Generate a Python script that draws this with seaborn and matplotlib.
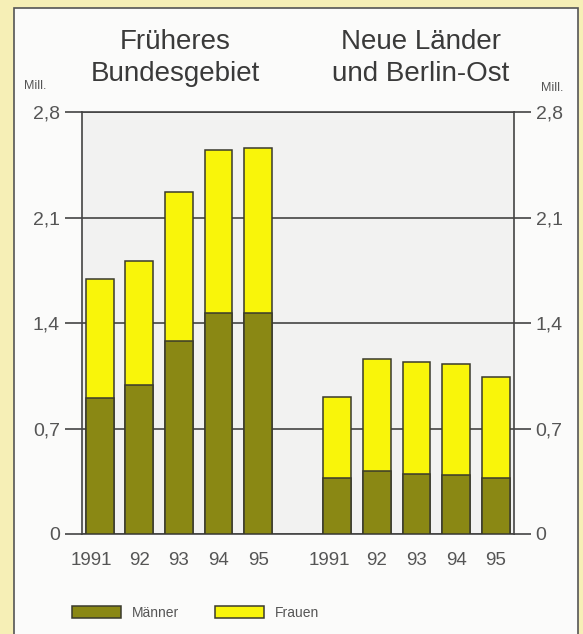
import pandas as pd
import matplotlib.pyplot as plt
import matplotlib.transforms as mtransforms
import seaborn as sns
from matplotlib.patches import Rectangle, Patch

# Arbeitslose in Mill., 1991-1995
years = ['1991', '92', '93', '94', '95']
west_maenner = [0.90, 0.99, 1.28, 1.47, 1.47]
west_frauen = [0.79, 0.82, 0.99, 1.08, 1.09]
ost_maenner = [0.37, 0.42, 0.40, 0.39, 0.37]
ost_frauen = [0.54, 0.74, 0.74, 0.74, 0.67]
y_ticks = [0, 0.7, 1.4, 2.1, 2.8]
y_labels = ['0', '0,7', '1,4', '2,1', '2,8']

olive = '#8a8814'
yellow = '#f9f50a'
edge = '#3a3a2c'
line = '#444444'
text_col = '#3a3a3a'
tick_col = '#555555'

sns.set_style('white')
plt.rcParams['font.family'] = ['Liberation Sans', 'DejaVu Sans']

n = len(years)
df = pd.DataFrame({
    'pos': list(range(n)) + [i + n + 1 for i in range(n)],
    'year': years + years,
    'maenner': west_maenner + ost_maenner,
    'frauen': west_frauen + ost_frauen,
})
df['total'] = df['maenner'] + df['frauen']

fig = plt.figure(figsize=(5.83, 6.34), dpi=100)
fig.patch.set_facecolor('#f6efb6')
W, H = 583, 634
fig.patches.append(Rectangle((14 / W, -0.01), (578 - 14) / W, 1.01 - 8 / H,
                             transform=fig.transFigure, facecolor='#fbfbfa',
                             edgecolor='#555555', linewidth=1.2, zorder=-5))

ax = fig.add_axes([81.5 / W, 1 - 534 / H, (514 - 81.5) / W, (534 - 112.3) / H])
ax.set_facecolor('#f2f2f1')

sns.barplot(data=df, x='pos', y='total', native_scale=True, width=0.7,
            color=yellow, saturation=1, edgecolor=edge, linewidth=1.1,
            zorder=3, ax=ax)
sns.barplot(data=df, x='pos', y='maenner', native_scale=True, width=0.7,
            color=olive, saturation=1, edgecolor=edge, linewidth=1.1,
            zorder=4, ax=ax)

ax.set_xlim(-0.46, 10.46)
ax.set_ylim(0, 2.8)
ax.set_xticks(df['pos'])
ax.set_xticklabels(df['year'], fontsize=13.5, color=tick_col)
ax.set_yticks(y_ticks)
ax.set_yticklabels(y_labels, fontsize=14, color=tick_col)
ax.tick_params(axis='x', length=0, pad=13)
ax.tick_params(axis='y', left=True, right=True, labelleft=True, labelright=True,
               length=12.5, width=1.2, color=line, pad=3, direction='out')
ax.set_xlabel('')
ax.set_ylabel('')
ax.grid(axis='y', color=line, linewidth=1.2, zorder=1)
ax.set_axisbelow(True)
for s in ax.spines.values():
    s.set_color(line)
    s.set_linewidth(1.2)

# "1991" sits a little left of its bar in the original
shift = mtransforms.ScaledTranslation(-8 / 100, 0, fig.dpi_scale_trans)
for lab in ax.get_xticklabels():
    if lab.get_text() == '1991':
        lab.set_transform(lab.get_transform() + shift)

fig.text(175 / W, 1 - 42 / H, 'Früheres', fontsize=20, ha='center', va='center', color=text_col)
fig.text(175 / W, 1 - 74 / H, 'Bundesgebiet', fontsize=20, ha='center', va='center', color=text_col)
fig.text(421 / W, 1 - 42 / H, 'Neue Länder', fontsize=20, ha='center', va='center', color=text_col)
fig.text(421 / W, 1 - 74 / H, 'und Berlin-Ost', fontsize=20, ha='center', va='center', color=text_col)
fig.text(35 / W, 1 - 86 / H, 'Mill.', fontsize=9, ha='center', va='center', color=tick_col)
fig.text(552 / W, 1 - 88 / H, 'Mill.', fontsize=9, ha='center', va='center', color=tick_col)

handles = [Patch(facecolor=olive, edgecolor=edge, linewidth=1.1, label='Männer'),
           Patch(facecolor=yellow, edgecolor=edge, linewidth=1.1, label='Frauen')]
leg = fig.legend(handles=handles, loc='center left', bbox_to_anchor=(72 / W, 1 - 613 / H),
                 ncol=2, frameon=False, fontsize=10, handlelength=3.5, handleheight=0.95,
                 handletextpad=0.8, columnspacing=2.6, borderpad=0, borderaxespad=0)
for t in leg.get_texts():
    t.set_color(tick_col)

fig.savefig('out.png', dpi=100, facecolor=fig.get_facecolor())
